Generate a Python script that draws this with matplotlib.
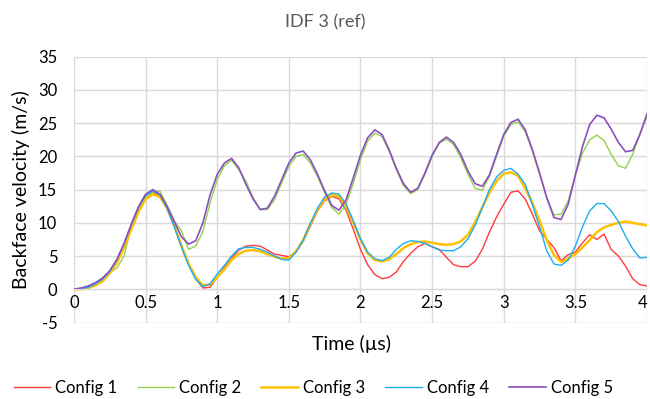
import numpy as np
import matplotlib
matplotlib.use("Agg")
import matplotlib.pyplot as plt

plt.rcParams["font.family"] = ["Lato", "DejaVu Sans"]
plt.rcParams["axes.unicode_minus"] = False

# time base (microseconds), sampled every 0.05 us
time_us = np.round(np.arange(0, 4.0001, 0.05), 2)

config1 = [0, 0.1, 0.3, 0.7, 1.3, 2.5, 4.2, 6.5, 9.4, 12.0, 14.0, 14.6, 14.0, 12.1, 9.5, 6.4,
           3.8, 1.6, 0.2, 0.3, 1.8, 3.3, 4.7, 5.9, 6.5, 6.6, 6.5, 5.9, 5.3, 5.1, 4.9, 5.6,
           7.2, 9.5, 11.8, 13.3, 14.0, 13.6, 11.9, 9.0, 6.0, 3.7, 2.2, 1.6, 1.8, 2.6, 4.2, 5.4,
           6.4, 6.9, 6.4, 6.0, 4.8, 3.7, 3.4, 3.4, 4.2, 6.0, 8.6, 10.9, 12.8, 14.6, 14.8, 13.6,
           11.3, 8.8, 7.5, 6.3, 4.3, 5.2, 5.6, 7.0, 8.2, 7.5, 8.3, 6.0, 5.0, 3.5, 1.6, 0.7, 0.5]

config2 = [0, 0.1, 0.3, 0.8, 1.5, 2.5, 3.2, 5.0, 9.6, 11.8, 14.0, 14.6, 14.8, 12.6, 10.3, 8.8,
           6.0, 6.5, 8.7, 13.0, 16.5, 18.6, 19.4, 18.0, 16.3, 13.8, 12.0, 12.0, 13.5, 16.0, 18.5, 20.0,
           20.3, 19.0, 17.0, 14.5, 12.3, 11.3, 12.8, 16.0, 19.5, 22.3, 23.5, 23.0, 20.8, 18.0, 15.6, 14.4,
           15.0, 17.3, 20.0, 22.0, 22.6, 21.8, 19.8, 17.3, 15.2, 14.9, 17.0, 20.0, 23.0, 24.8, 25.2, 23.7,
           20.8, 17.3, 13.8, 11.2, 11.3, 13.3, 17.2, 20.5, 22.5, 23.2, 22.4, 20.3, 18.6, 18.2, 20.3, 23.3, 26.0]

config3 = [0, 0.0, 0.2, 0.6, 1.2, 2.4, 4.0, 6.3, 9.0, 11.6, 13.6, 14.3, 13.9, 12.2, 9.6, 6.6,
           3.9, 1.8, 0.6, 0.7, 1.8, 3.0, 4.4, 5.3, 5.8, 5.9, 5.7, 5.3, 4.9, 4.6, 4.7, 5.7,
           7.4, 9.8, 12.0, 13.5, 14.2, 14.0, 12.5, 10.0, 7.5, 5.4, 4.4, 4.2, 4.5, 5.3, 6.2, 6.8,
           7.1, 7.2, 7.0, 6.8, 6.7, 6.8, 7.2, 8.2, 10.1, 12.3, 14.5, 16.3, 17.4, 17.6, 17.1, 15.2,
           13.0, 10.3, 7.4, 5.2, 4.1, 4.6, 5.3, 6.3, 7.4, 8.6, 9.3, 9.7, 10.0, 10.2, 10.0, 9.8, 9.6]

config4 = [0, 0.1, 0.3, 0.8, 1.5, 2.7, 4.5, 6.9, 9.7, 12.3, 14.1, 14.8, 14.2, 12.2, 9.4, 6.4,
           3.6, 1.5, 0.4, 0.8, 2.3, 3.6, 5.0, 6.1, 6.3, 6.3, 6.0, 5.6, 5.0, 4.5, 4.4, 5.6,
           7.4, 9.9, 12.2, 13.9, 14.5, 14.3, 12.8, 10.3, 7.6, 5.6, 4.6, 4.3, 4.8, 6.0, 6.9, 7.3,
           7.2, 6.9, 6.4, 5.9, 5.8, 5.8, 6.4, 7.6, 9.6, 12.3, 15.0, 16.9, 17.9, 18.2, 17.3, 15.8,
           12.7, 9.4, 5.8, 3.8, 3.6, 4.4, 6.5, 9.4, 11.8, 12.9, 12.9, 11.8, 10.2, 8.0, 6.1, 4.7, 4.8]

config5 = [0, 0.2, 0.5, 1.0, 1.7, 2.8, 4.5, 6.9, 9.8, 12.4, 14.3, 15.0, 14.3, 12.5, 10.2, 7.9,
           6.8, 7.3, 10.0, 14.2, 17.3, 19.0, 19.7, 18.3, 15.8, 13.6, 12.0, 12.2, 14.0, 16.5, 19.0, 20.5,
           20.8, 19.5, 17.3, 14.8, 12.6, 11.9, 13.5, 16.8, 20.2, 22.8, 24.0, 23.3, 21.0, 18.2, 15.9, 14.6,
           15.2, 17.5, 20.2, 22.1, 22.9, 22.1, 20.3, 17.8, 15.9, 15.5, 17.2, 20.3, 23.3, 25.1, 25.6, 24.0,
           21.0, 17.5, 13.8, 10.8, 10.5, 12.8, 17.2, 21.5, 24.8, 26.2, 25.8, 24.1, 22.1, 20.7, 20.9, 23.3, 26.4]

labels = ["Config 1", "Config 2", "Config 3", "Config 4", "Config 5"]
colors = ["#ff3b3b", "#92d050", "#ffc000", "#1aaff0", "#8a4fbf"]
widths = [1.0, 1.0, 1.8, 1.0, 1.2]

fig = plt.figure(figsize=(6.5, 3.99), dpi=100)
ax = fig.add_axes([0.1138, 0.1917, 0.8816, 0.6662])

for series, lab, c, lw in zip([config1, config2, config3, config4, config5], labels, colors, widths):
    ax.plot(time_us, series, color=c, linewidth=lw, label=lab)

ax.set_xlim(0, 4)
ax.set_ylim(-5, 35)
ax.set_xticks(np.arange(0, 4.01, 0.5))
ax.set_xticklabels(["0", "0.5", "1", "1.5", "2", "2.5", "3", "3.5", "4"])
ax.set_yticks(np.arange(-5, 36, 5))

ax.grid(True, color="#d9d9d9", linewidth=1.0)
ax.set_axisbelow(True)
for side in ["top", "right", "left"]:
    ax.spines[side].set_visible(False)
# horizontal axis crosses at zero, labels sit just under it
ax.spines["bottom"].set_position(("data", 0))
ax.spines["bottom"].set_color("#d9d9d9")
ax.tick_params(axis="both", length=0, labelsize=12, colors="black")
ax.tick_params(axis="x", pad=4)
ax.tick_params(axis="y", pad=12)
ax.get_xticklabels()[-1].set_horizontalalignment("right")

ax.set_ylabel("Backface velocity (m/s)", fontsize=14, labelpad=6)
fig.text(0.5412, 0.137, "Time (µs)", ha="center", va="center", fontsize=14)
fig.text(0.5, 0.945, "IDF 3 (ref)", ha="center", va="center", fontsize=13, color="#595959")

fig.legend(loc="center", bbox_to_anchor=(0.482, 0.028), ncol=5, frameon=False,
           fontsize=12, handlelength=2.2, handletextpad=0.3, columnspacing=1.2)

fig.savefig("out.png", dpi=100)
